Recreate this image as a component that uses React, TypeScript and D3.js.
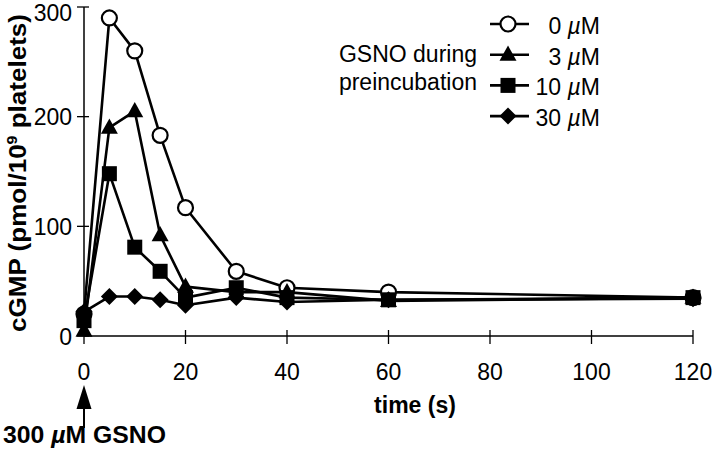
import React from "react";
import * as d3 from "d3";

const times = [0, 5, 10, 15, 20, 30, 40, 60, 120];
const gsno0 = [20, 290, 260, 183, 117, 59, 44, 40, 35];
const gsno3 = [5, 190, 205, 92, 45, 40, 40, 32, 35];
const gsno10 = [14, 148, 81, 59, 35, 44, 35, 33, 35];
const gsno30 = [22, 36, 36, 33, 28, 35, 31, 33, 34];
const xTicks = [0, 20, 40, 60, 80, 100, 120];
const yTicks = [0, 100, 200, 300];
const legendLabels = ["0", "3", "10", "30"];
const seriesKeys = ["circle", "triangle", "square", "diamond"];

const W = 720;
const H = 458;
const FONT = "'Liberation Sans', Arial, Helvetica, sans-serif";

const x = d3.scaleLinear().domain([0, 120]).range([84, 693]);
const y = d3.scaleLinear().domain([0, 300]).range([336, 7]);

function Marker({ kind, cx, cy }: { kind: string; cx: number; cy: number }) {
  if (kind === "circle")
    return <circle cx={cx} cy={cy} r={7.5} fill="#fff" stroke="#000" strokeWidth={2.2} />;
  if (kind === "triangle") {
    const s = 17;
    const h = s * 0.9;
    return (
      <path
        d={`M${cx},${cy - h * 0.6}L${cx + s / 2},${cy + h * 0.4}L${cx - s / 2},${cy + h * 0.4}Z`}
        fill="#000"
      />
    );
  }
  if (kind === "square")
    return <rect x={cx - 7.5} y={cy - 7.5} width={15} height={15} fill="#000" />;
  const r = 8.5;
  return <path d={`M${cx},${cy - r}L${cx + r},${cy}L${cx},${cy + r}L${cx - r},${cy}Z`} fill="#000" />;
}

export default function App() {
  const series = [gsno0, gsno3, gsno10, gsno30];
  const line = d3
    .line<[number, number]>()
    .x((d) => x(d[0]))
    .y((d) => y(d[1]));

  return (
    <svg width={W} height={H} style={{ position: "absolute", left: 0, top: 0, background: "#fff" }} fontFamily={FONT}>
      <rect width={W} height={H} fill="#fff" />
      {/* axes */}
      <line x1={x(0)} x2={x(0)} y1={y(300)} y2={y(0)} stroke="#000" strokeWidth={1.5} />
      <line x1={x(0)} x2={x(120)} y1={y(0)} y2={y(0)} stroke="#000" strokeWidth={1.5} />
      {yTicks.map((t) => (
        <g key={"y" + t}>
          <line x1={x(0) - 7} x2={x(0) + 5} y1={y(t)} y2={y(t)} stroke="#000" strokeWidth={1.3} />
          <text x={72} y={Math.max(y(t) + 8.5, 21)} textAnchor="end" fontSize={23}>
            {t}
          </text>
        </g>
      ))}
      {xTicks.map((t) => (
        <g key={"x" + t}>
          <line x1={x(t)} x2={x(t)} y1={y(0) - 6} y2={y(0) + 8} stroke="#000" strokeWidth={1.3} />
          <text x={x(t)} y={380} textAnchor="middle" fontSize={23}>
            {t}
          </text>
        </g>
      ))}
      <text x={415} y={413} textAnchor="middle" fontSize={23} fontWeight="bold">
        time (s)
      </text>
      <text
        transform={`translate(26,173) rotate(-90)`}
        textAnchor="middle"
        fontSize={23}
        fontWeight="bold"
        textLength={318}
        lengthAdjust="spacingAndGlyphs"
      >
        cGMP (pmol/10<tspan fontSize={14} dy={-9}>9</tspan>
        <tspan dy={9}> platelets)</tspan>
      </text>

      {/* arrow */}
      <line x1={x(0)} x2={x(0)} y1={405} y2={428} stroke="#000" strokeWidth={2} />
      <path d={`M${x(0)},385L${x(0) + 7.5},409L${x(0) - 7.5},409Z`} fill="#000" />
      <text x={3} y={443} fontSize={23} fontWeight="bold" textLength={163} lengthAdjust="spacingAndGlyphs">
        300 <tspan fontStyle="italic">µ</tspan>M GSNO
      </text>

      {/* series */}
      {series.map((vals, i) => {
        const pts = times.map((t, j) => [t, vals[j]] as [number, number]);
        return (
          <g key={"s" + i}>
            <path d={line(pts) || ""} fill="none" stroke="#000" strokeWidth={2.6} strokeLinejoin="round" />
            {pts.map((p, j) => (
              <Marker key={j} kind={seriesKeys[i]} cx={x(p[0])} cy={y(p[1])} />
            ))}
          </g>
        );
      })}

      {/* legend */}
      <text x={477} y={62} textAnchor="end" fontSize={23}>
        GSNO during
      </text>
      <text x={477} y={90} textAnchor="end" fontSize={23}>
        preincubation
      </text>
      {legendLabels.map((lab, i) => {
        const cy = 24 + i * 30.7;
        return (
          <g key={"l" + i}>
            <line x1={490} x2={529} y1={cy} y2={cy} stroke="#000" strokeWidth={2.6} />
            <Marker kind={seriesKeys[i]} cx={508} cy={cy} />
            <text x={600} y={cy + 10} textAnchor="end" fontSize={23}>
              {lab} <tspan fontStyle="italic">µ</tspan>M
            </text>
          </g>
        );
      })}
    </svg>
  );
}
